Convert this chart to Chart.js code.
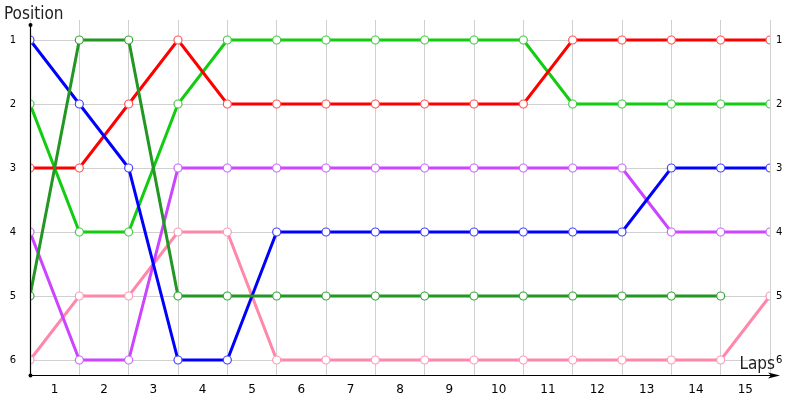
<!DOCTYPE html>
<html>
<head>
<meta charset="utf-8">
<script src="https://cdn.jsdelivr.net/npm/chart.js@4/dist/chart.umd.min.js"></script>
<style>
html,body{margin:0;padding:0;background:#fff;}
#wrap{width:800px;height:400px;}
</style>
</head>
<body>
<div id="wrap"><canvas id="c" width="800" height="400"></canvas></div>
<script>
const laps = [0,1,2,3,4,5,6,7,8,9,10,11,12,13,14,15];
const lapLabels = ['1','2','3','4','5','6','7','8','9','10','11','12','13','14','15'];
const positionTicks = [1,2,3,4,5,6];

const blue      = [1,2,3,6,6,4,4,4,4,4,4,4,4,3,3,3];
const red       = [3,3,2,1,2,2,2,2,2,2,2,1,1,1,1,1];
const lightGreen= [2,4,4,2,1,1,1,1,1,1,1,2,2,2,2,2];
const darkGreen = [5,1,1,5,5,5,5,5,5,5,5,5,5,5,5,null];
const purple    = [4,6,6,3,3,3,3,3,3,3,3,3,3,4,4,4];
const pink      = [6,5,5,4,4,6,6,6,6,6,6,6,6,6,6,5];

function pts(arr){ return laps.map((x,i)=>({x:x,y:arr[i]})).filter(p=>p.y!==null); }
function ds(arr, col, pcol){
  return {data:pts(arr), borderColor:col, borderWidth:3, backgroundColor:'#fff',
    pointRadius:4, pointBorderColor:pcol, pointBackgroundColor:'#fff', pointBorderWidth:1.2,
    tension:0, spanGaps:false};
}

const axesPlugin = {
  id:'axesDeco',
  afterDraw(chart){
    const ctx = chart.ctx, a = chart.chartArea;
    ctx.save();
    ctx.strokeStyle='#000'; ctx.fillStyle='#000'; ctx.lineWidth=1.2;
    ctx.beginPath(); ctx.moveTo(a.left+0.5, a.top+5); ctx.lineTo(a.left+0.5, a.bottom); ctx.stroke();
    ctx.beginPath(); ctx.arc(a.left+0.5, a.top+5, 2, 0, Math.PI*2); ctx.fill();
    ctx.beginPath(); ctx.moveTo(a.left, a.bottom+0.5); ctx.lineTo(a.right+7, a.bottom+0.5); ctx.stroke();
    ctx.beginPath(); ctx.arc(a.left+0.5, a.bottom+0.5, 2, 0, Math.PI*2); ctx.fill();
    ctx.beginPath(); ctx.moveTo(a.right+10, a.bottom+0.5); ctx.lineTo(a.right-2, a.bottom-2.5); ctx.lineTo(a.right+1, a.bottom+0.5); ctx.lineTo(a.right-2, a.bottom+3.5); ctx.closePath(); ctx.fill();
    ctx.fillStyle='#222';
    ctx.font='17px "DejaVu Sans Condensed", "DejaVu Sans", sans-serif';
    ctx.textBaseline='middle'; ctx.textAlign='left';
    ctx.fillText('Position', 4, 15);
    ctx.textAlign='right';
    ctx.fillText('Laps', a.right+5, a.bottom-10);
    ctx.restore();
  }
};

new Chart(document.getElementById('c'), {
  type:'line',
  data:{ datasets:[
    ds(darkGreen,'#239623','#3aa83a'),
    ds(blue,'#0000ff','#4444ff'),
    ds(red,'#ff0000','#ff5555'),
    ds(lightGreen,'#11cc11','#44cc44'),
    ds(purple,'#cc44ff','#cc66ff'),
    ds(pink,'#ff88aa','#ff99bb')
  ]},
  options:{
    responsive:false, animation:false,
    layout:{padding:{top:20,left:0,right:0,bottom:0}},
    plugins:{legend:{display:false}, tooltip:{enabled:false}},
    scales:{
      x:{type:'linear', min:0, max:15, position:'bottom',
         ticks:{display:false, stepSize:1},
         grid:{color:'#d0d0d0', lineWidth:1, drawTicks:false},
         border:{display:false},
         afterFit(s){ s.height=0; }},
      xl:{type:'category', labels:lapLabels, offset:true, position:'bottom',
         grid:{display:false, drawTicks:false}, border:{display:false},
         ticks:{color:'#000', font:{family:'DejaVu Sans', size:12}, padding:8, maxRotation:0, autoSkip:false},
         afterFit(s){ s.height=25; }},
      y:{type:'linear', reverse:true, min:0.6875, max:6.234375, position:'left',
         afterBuildTicks(s){ s.ticks = positionTicks.map(v=>({value:v})); },
         ticks:{color:'#000', font:{family:'DejaVu Sans', size:10}, padding:14},
         grid:{color:'#d0d0d0', lineWidth:1, drawTicks:false},
         border:{display:false},
         afterFit(s){ s.width=30; }},
      yr:{type:'linear', reverse:true, min:0.6875, max:6.234375, position:'right',
         afterBuildTicks(s){ s.ticks = positionTicks.map(v=>({value:v})); },
         ticks:{color:'#000', font:{family:'DejaVu Sans', size:10}, padding:6},
         grid:{display:false, drawTicks:false},
         border:{display:false},
         afterFit(s){ s.width=30; }}
    }
  },
  plugins:[axesPlugin]
});
</script>
</body>
</html>
